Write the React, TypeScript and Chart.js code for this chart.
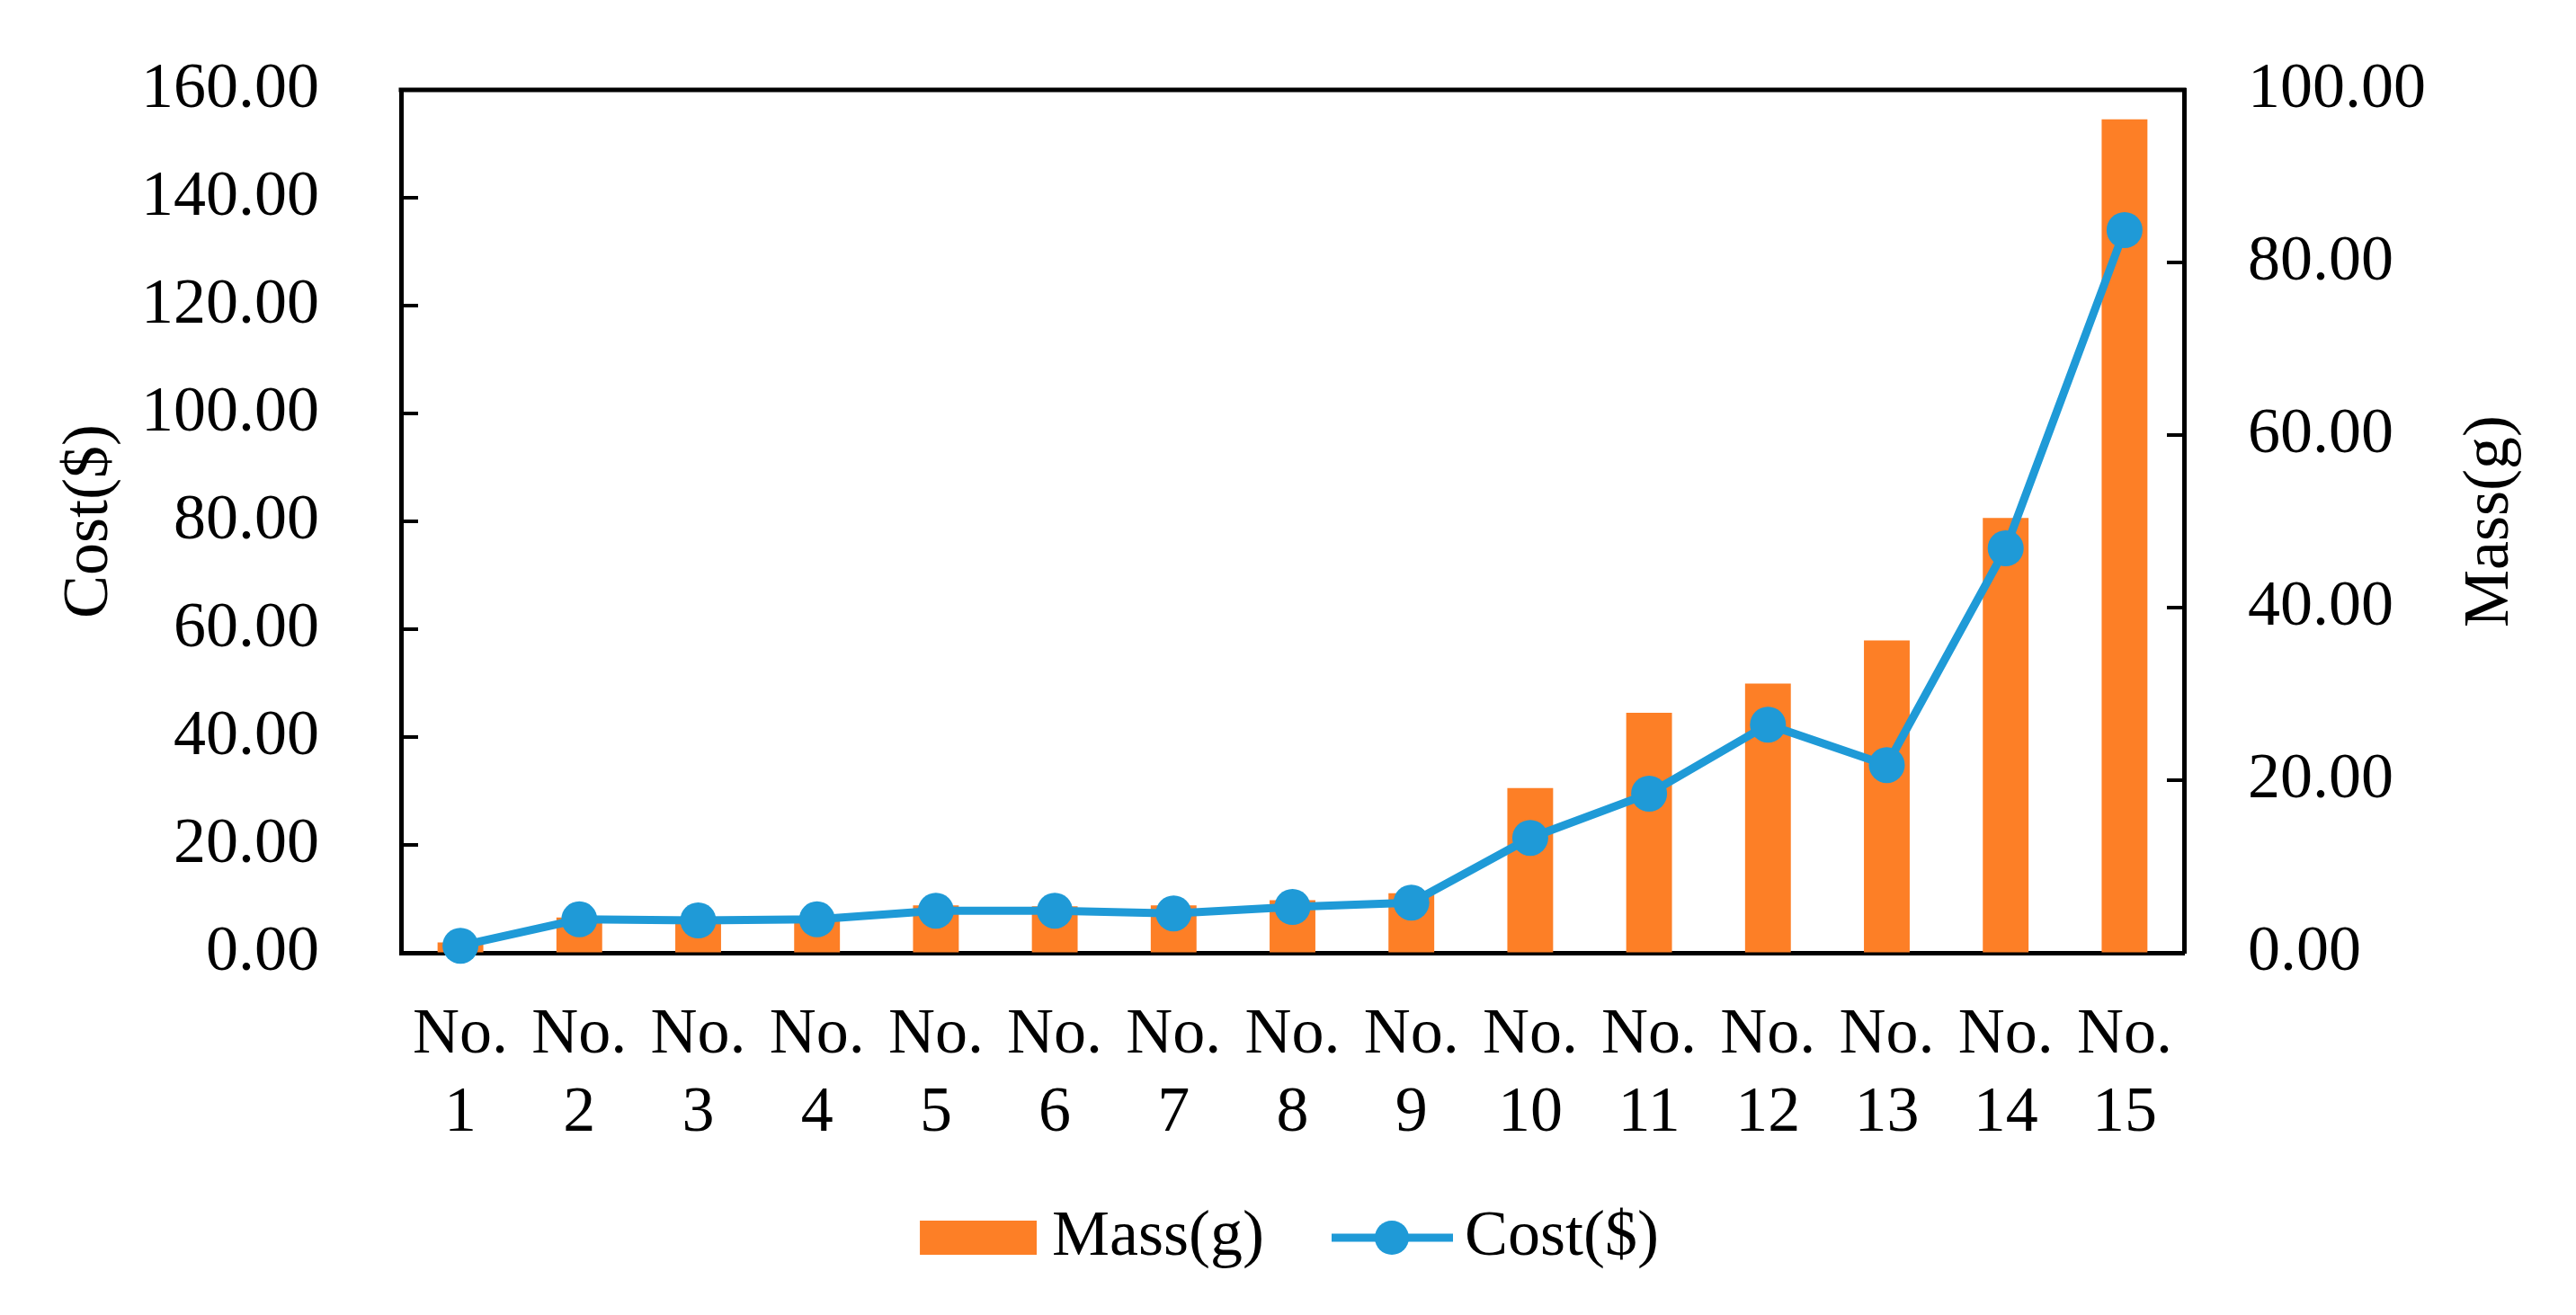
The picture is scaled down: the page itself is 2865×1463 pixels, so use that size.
import React, { useEffect, useRef } from 'react';
import { Chart, registerables } from 'chart.js';

Chart.register(...registerables);

const categories: string[][] = [
  ['No.', '1'], ['No.', '2'], ['No.', '3'], ['No.', '4'], ['No.', '5'],
  ['No.', '6'], ['No.', '7'], ['No.', '8'], ['No.', '9'], ['No.', '10'],
  ['No.', '11'], ['No.', '12'], ['No.', '13'], ['No.', '14'], ['No.', '15'],
];
const massValues: number[] = [1.2, 4.1, 4.0, 4.0, 5.5, 5.4, 5.5, 6.1, 6.9, 19.1, 27.8, 31.2, 36.2, 50.4, 96.6];
const costValues: number[] = [1.3, 6.2, 6.0, 6.2, 7.8, 7.8, 7.3, 8.5, 9.3, 21.3, 29.5, 42.3, 34.8, 75.0, 134.0];
const costAxisRange: number[] = [0, 160, 20];
const massAxisRange: number[] = [0, 100, 20];
const seriesNames: string[] = ['Mass(g)', 'Cost($)'];
const axisTitles: string[] = ['Cost($)', 'Mass(g)'];

const ORANGE = '#FD7F26';
const BLUE = '#1F9AD7';
const FONT = "'Liberation Serif', 'Times New Roman', serif";

function makeMassIcon(): HTMLCanvasElement {
  const c = document.createElement('canvas');
  c.width = 152; c.height = 38;
  const g = c.getContext('2d')!;
  g.fillStyle = ORANGE;
  g.fillRect(22, 0, 130, 38);
  return c;
}
function makeCostIcon(): HTMLCanvasElement {
  const c = document.createElement('canvas');
  c.width = 160; c.height = 40;
  const g = c.getContext('2d')!;
  g.strokeStyle = BLUE;
  g.lineWidth = 9;
  g.beginPath(); g.moveTo(25, 20); g.lineTo(160, 20); g.stroke();
  g.fillStyle = BLUE;
  g.beginPath(); g.arc(92, 20, 19, 0, Math.PI * 2); g.fill();
  return c;
}

// inward tick marks, top frame line, right axis title (reads bottom-to-top)
const framePlugin = {
  id: 'frameAndRightTitle',
  afterDraw(chart: any) {
    const { ctx, chartArea } = chart;
    ctx.save();
    ctx.strokeStyle = '#000';
    ctx.lineWidth = 4;
    const left = chart.scales.y;
    left.ticks.forEach((t: any) => {
      const y = Math.round(left.getPixelForValue(t.value));
      ctx.beginPath();
      ctx.moveTo(chartArea.left, y);
      ctx.lineTo(chartArea.left + 19, y);
      ctx.stroke();
    });
    const right = chart.scales.y1;
    right.ticks.forEach((t: any) => {
      const y = Math.round(right.getPixelForValue(t.value));
      ctx.beginPath();
      ctx.moveTo(chartArea.right, y);
      ctx.lineTo(chartArea.right - 19, y);
      ctx.stroke();
    });
    ctx.lineWidth = 5;
    ctx.beginPath();
    ctx.moveTo(chartArea.left - 2.5, chartArea.top);
    ctx.lineTo(chartArea.right + 2.5, chartArea.top);
    ctx.stroke();
    ctx.translate(right.right - 95, (chartArea.top + chartArea.bottom) / 2);
    ctx.rotate(-Math.PI / 2);
    ctx.font = `72px ${FONT}`;
    ctx.fillStyle = '#000';
    ctx.textAlign = 'center';
    ctx.textBaseline = 'middle';
    ctx.fillText(axisTitles[1], 0, 0);
    ctx.restore();
  },
};

export default function App() {
  const ref = useRef<HTMLCanvasElement | null>(null);
  useEffect(() => {
    if (!ref.current) return;
    Chart.defaults.font.family = FONT;
    Chart.defaults.color = '#000';
    const icons = [makeMassIcon(), makeCostIcon()];
    const chart = new Chart(ref.current, {
      type: 'bar',
      data: {
        labels: categories,
        datasets: [
          {
            type: 'bar',
            label: seriesNames[0],
            data: massValues,
            backgroundColor: ORANGE,
            yAxisID: 'y1',
            barPercentage: 0.385,
            categoryPercentage: 1,
            order: 1,
          } as any,
          {
            type: 'line',
            label: seriesNames[1],
            data: costValues,
            borderColor: BLUE,
            backgroundColor: BLUE,
            borderWidth: 9,
            pointRadius: 20,
            pointBorderWidth: 0,
            pointBackgroundColor: BLUE,
            yAxisID: 'y',
            tension: 0,
            clip: false,
            order: 0,
          } as any,
        ],
      },
      options: {
        responsive: false,
        devicePixelRatio: 1,
        animation: false,
        layout: { padding: { top: 100, bottom: 40, left: 0, right: 0 } },
        plugins: {
          tooltip: { enabled: false },
          legend: {
            position: 'bottom',
            labels: {
              usePointStyle: true,
              pointStyleWidth: 114,
              padding: 73,
              font: { size: 72, family: FONT },
              color: '#000',
              generateLabels: (ch: any) => {
                const items = Chart.defaults.plugins.legend.labels.generateLabels(ch);
                items.sort((a: any, b: any) => a.datasetIndex - b.datasetIndex);
                items.forEach((it: any) => { it.pointStyle = icons[it.datasetIndex]; });
                return items;
              },
            },
          },
        },
        scales: {
          x: {
            grid: { display: false, drawTicks: false },
            border: { display: true, color: '#000', width: 5 },
            ticks: { font: { size: 72 }, color: '#000', padding: 49, maxRotation: 0, autoSkip: false },
            afterFit: (s: any) => { s.height = 208; },
          },
          y: {
            position: 'left',
            min: costAxisRange[0],
            max: costAxisRange[1],
            grid: { drawOnChartArea: false, drawTicks: true, tickLength: 91, tickWidth: 0, tickColor: 'rgba(0,0,0,0)' },
            border: { display: true, color: '#000', width: 5 },
            ticks: {
              stepSize: costAxisRange[2],
              font: { size: 72 },
              color: '#000',
              padding: 0,
              callback: (v: any) => Number(v).toFixed(2),
            },
            title: { display: true, text: axisTitles[0], font: { size: 72 }, color: '#000', padding: { top: 57, bottom: 0 } },
            afterFit: (s: any) => { s.width = 446; },
          },
          y1: {
            position: 'right',
            min: massAxisRange[0],
            max: massAxisRange[1],
            grid: { drawOnChartArea: false, drawTicks: true, tickLength: 71, tickWidth: 0, tickColor: 'rgba(0,0,0,0)' },
            border: { display: true, color: '#000', width: 5 },
            ticks: {
              stepSize: massAxisRange[2],
              font: { size: 72 },
              color: '#000',
              padding: 0,
              callback: (v: any) => Number(v).toFixed(2),
            },
            afterFit: (s: any) => { s.width = 436; },
          },
        },
      } as any,
      plugins: [framePlugin],
    });
    return () => chart.destroy();
  }, []);
  return (
    <div style={{ position: 'fixed', left: 0, top: 0, width: 2865, height: 1463, background: '#fff' }}>
      <canvas ref={ref} width={2865} height={1463} style={{ width: 2865, height: 1463, display: 'block' }} />
    </div>
  );
}
